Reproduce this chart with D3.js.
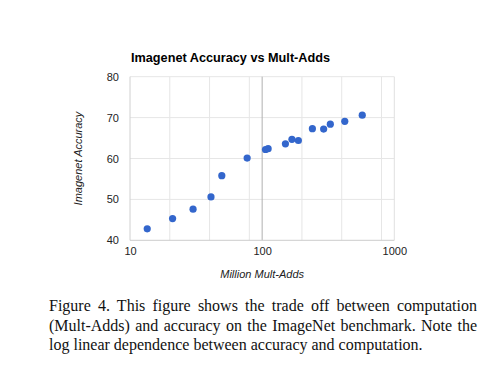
<!DOCTYPE html>
<html>
<head>
<meta charset="utf-8">
<script src="https://cdn.jsdelivr.net/npm/d3@7"></script>
<style>
  html, body { margin: 0; padding: 0; background: #fff; }
  #wrap { position: relative; width: 497px; height: 384px; overflow: hidden; }
  #caption {
    position: absolute; left: 49px; top: 296px; width: 428px;
    font-family: "Liberation Serif", "Times New Roman", serif;
    font-size: 16px; line-height: 19.5px; color: #111;
    text-align: justify; text-align-last: left;
  }
</style>
</head>
<body>
<div id="wrap"></div>
<script>
// ---- data ----
const multAdds = [13.5, 21, 30, 41, 49.5, 77, 106, 111, 150, 168, 188, 240, 292, 328, 422, 572];
const accuracy = [42.8, 45.3, 47.6, 50.6, 55.8, 60.1, 62.2, 62.4, 63.6, 64.7, 64.4, 67.3, 67.2, 68.4, 69.1, 70.6];
const xTicks = [10, 100, 1000];
const xGrid = [20, 40, 80, 200, 400, 800];
const yTicks = [40, 50, 60, 70, 80];
const title = "Imagenet Accuracy vs Mult-Adds";
const xTitle = "Million Mult-Adds";
const yTitle = "Imagenet Accuracy";
const caption = "Figure 4. This figure shows the trade off between computation (Mult-Adds) and accuracy on the ImageNet benchmark. Note the log linear dependence between accuracy and computation.";

const W = 497, H = 384;
const L = 130, R = 394.3, T = 76.7, B = 240.3;

const wrap = d3.select("#wrap");
const svg = wrap.append("svg").attr("width", W).attr("height", H)
  .style("position", "absolute").style("left", 0).style("top", 0);

const x = d3.scaleLog().domain([10, 1000]).range([L, R]);
const y = d3.scaleLinear().domain([40, 80]).range([B, T]);
const font = "Liberation Sans, Arial, sans-serif";

// grid
const g = svg.append("g");
g.selectAll("line.vg").data(xGrid).join("line")
  .attr("x1", d => x(d)).attr("x2", d => x(d)).attr("y1", T).attr("y2", B)
  .attr("stroke", "#e6e6e6").attr("stroke-width", 1);
g.selectAll("line.hg").data(yTicks.slice(1)).join("line")
  .attr("x1", L).attr("x2", R).attr("y1", d => y(d)).attr("y2", d => y(d))
  .attr("stroke", "#e6e6e6").attr("stroke-width", 1);
// right border
g.append("line").attr("x1", x(1000)).attr("x2", x(1000)).attr("y1", T).attr("y2", B)
  .attr("stroke", "#e0e0e0");
// left axis line
g.append("line").attr("x1", x(10)).attr("x2", x(10)).attr("y1", T).attr("y2", B)
  .attr("stroke", "#d0d0d0");
// baseline at 100
g.append("line").attr("x1", x(100)).attr("x2", x(100)).attr("y1", T).attr("y2", B)
  .attr("stroke", "#b0b0b0");
// bottom axis line
g.append("line").attr("x1", L).attr("x2", R).attr("y1", y(40)).attr("y2", y(40))
  .attr("stroke", "#cccccc");

// axes (labels via d3 axes, no domain/ticks)
const xAxis = svg.append("g").attr("transform", `translate(0,${B})`)
  .call(d3.axisBottom(x).tickValues(xTicks).tickFormat(d3.format("d")).tickSize(0).tickPadding(7));
xAxis.select(".domain").remove();
xAxis.selectAll("text").attr("font-family", font).attr("font-size", 11).attr("fill", "#222");

const yAxis = svg.append("g").attr("transform", `translate(${L},0)`)
  .call(d3.axisLeft(y).tickValues(yTicks).tickFormat(d3.format("d")).tickSize(0).tickPadding(11));
yAxis.select(".domain").remove();
yAxis.selectAll("text").attr("font-family", font).attr("font-size", 11).attr("fill", "#222");

// points
svg.append("g").selectAll("circle").data(multAdds).join("circle")
  .attr("cx", d => x(d)).attr("cy", (d, i) => y(accuracy[i]))
  .attr("r", 3.6).attr("fill", "#3366cc");

// title
svg.append("text").attr("x", L + 1).attr("y", 61.5)
  .attr("font-family", font).attr("font-size", 12.7).attr("font-weight", "bold")
  .attr("fill", "#000").text(title);

// axis titles
svg.append("text").attr("x", (L + R) / 2).attr("y", 278)
  .attr("text-anchor", "middle").attr("font-family", font).attr("font-size", 11)
  .attr("font-style", "italic").attr("fill", "#222").text(xTitle);
svg.append("text").attr("transform", `translate(82,${(T + B) / 2}) rotate(-90)`)
  .attr("text-anchor", "middle").attr("font-family", font).attr("font-size", 11)
  .attr("font-style", "italic").attr("fill", "#222").text(yTitle);

// caption
wrap.append("div").attr("id", "caption").text(caption);
</script>
</body>
</html>
